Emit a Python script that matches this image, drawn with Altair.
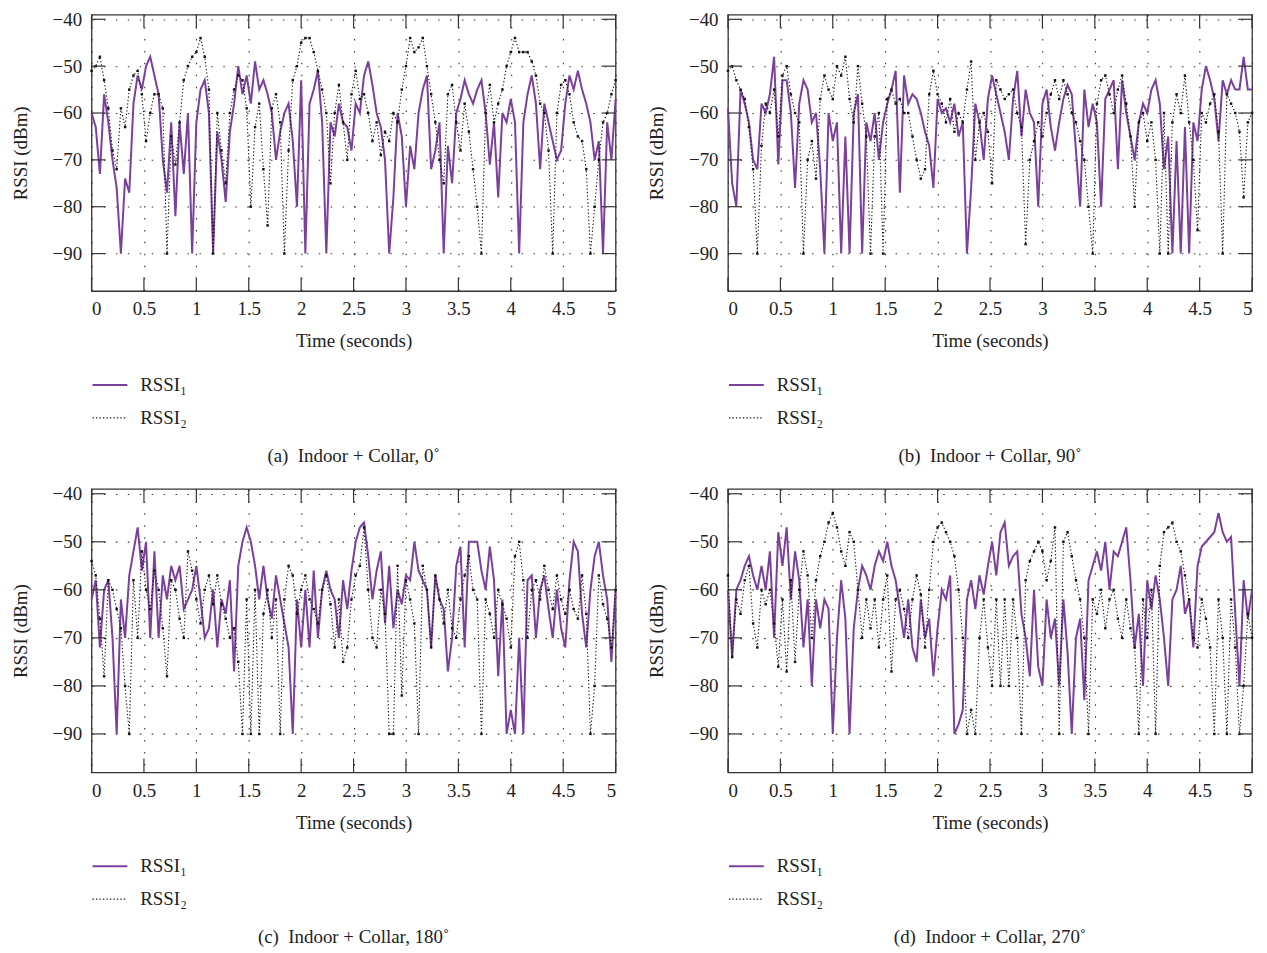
import altair as alt
import pandas as pd

# ---------------- data ----------------
TIME = [round(i * 0.04, 2) for i in range(126)]
SERIES = ["RSSI\u2081", "RSSI\u2082"]
X_TICKS = [0, 0.5, 1, 1.5, 2, 2.5, 3, 3.5, 4, 4.5, 5]
Y_TICKS = [-90, -80, -70, -60, -50, -40]
CAPTIONS = [
    "(a)\u2002Indoor + Collar, 0\u02da",
    "(b)\u2002Indoor + Collar, 90\u02da",
    "(c)\u2002Indoor + Collar, 180\u02da",
    "(d)\u2002Indoor + Collar, 270\u02da",
]

A_RSSI1 = [-60, -63, -73, -56, -62, -70, -76, -90, -74, -77,
           -58, -52, -55, -50, -48, -52, -56, -70, -77, -62,
           -82, -62, -73, -60, -90, -62, -55, -53, -60, -90,
           -64, -70, -79, -64, -58, -50, -56, -52, -58, -49,
           -55, -53, -56, -60, -70, -64, -60, -58, -66, -80,
           -53, -90, -58, -55, -51, -62, -90, -62, -65, -58,
           -62, -63, -68, -58, -60, -52, -49, -54, -60, -63,
           -70, -90, -78, -60, -65, -80, -67, -72, -60, -55,
           -52, -72, -68, -62, -90, -67, -75, -60, -57, -53,
           -56, -58, -55, -53, -60, -71, -62, -78, -60, -62,
           -57, -62, -90, -62, -56, -52, -58, -72, -58, -62,
           -66, -70, -68, -58, -52, -55, -51, -55, -58, -62,
           -70, -66, -90, -62, -70, -57]
A_RSSI2 = [-51, -50, -48, -53, -59, -68, -72, -59, -63, -55,
           -52, -51, -56, -66, -60, -56, -56, -59, -90, -65,
           -71, -62, -53, -50, -48, -47, -44, -48, -55, -90,
           -60, -68, -75, -60, -55, -52, -53, -59, -80, -63,
           -58, -72, -84, -59, -56, -62, -90, -68, -53, -50,
           -45, -44, -44, -47, -51, -55, -60, -75, -60, -54,
           -62, -70, -56, -51, -57, -56, -60, -66, -62, -69,
           -64, -66, -60, -62, -55, -50, -44, -47, -46, -44,
           -50, -56, -62, -70, -75, -56, -54, -62, -68, -58,
           -64, -72, -80, -90, -60, -54, -62, -58, -55, -50,
           -47, -44, -47, -47, -47, -49, -52, -58, -60, -68,
           -90, -60, -54, -53, -56, -62, -65, -66, -72, -90,
           -80, -70, -62, -60, -56, -53]

B_RSSI1 = [-59, -75, -80, -55, -58, -62, -70, -72, -58, -60,
           -56, -48, -71, -53, -53, -60, -76, -58, -53, -55,
           -62, -60, -72, -90, -60, -66, -62, -90, -65, -90,
           -60, -56, -90, -62, -66, -60, -70, -62, -58, -55,
           -51, -77, -52, -58, -56, -57, -60, -64, -67, -76,
           -57, -60, -59, -62, -58, -65, -62, -90, -76, -58,
           -62, -70, -57, -52, -56, -60, -64, -70, -57, -51,
           -65, -55, -60, -62, -80, -58, -55, -63, -68, -62,
           -57, -54, -56, -68, -80, -55, -63, -58, -62, -80,
           -57, -55, -53, -72, -53, -60, -65, -70, -62, -58,
           -60, -55, -53, -58, -72, -65, -90, -66, -90, -63,
           -90, -62, -66, -55, -50, -53, -57, -66, -53, -56,
           -53, -55, -55, -48, -55, -55]
B_RSSI2 = [-51, -50, -53, -55, -57, -63, -72, -90, -67, -58,
           -60, -55, -65, -52, -50, -56, -60, -62, -90, -70,
           -66, -74, -57, -52, -55, -57, -50, -52, -48, -57,
           -62, -50, -58, -65, -90, -65, -60, -90, -57, -55,
           -58, -57, -60, -60, -65, -70, -74, -72, -56, -51,
           -56, -58, -62, -57, -64, -60, -62, -55, -49, -70,
           -62, -60, -64, -75, -53, -55, -57, -56, -55, -60,
           -63, -88, -70, -66, -62, -65, -60, -56, -53, -57,
           -53, -56, -60, -62, -66, -70, -80, -90, -58, -53,
           -52, -56, -60, -55, -52, -58, -65, -80, -62, -60,
           -66, -62, -70, -90, -60, -90, -62, -56, -60, -52,
           -62, -70, -85, -60, -62, -58, -56, -64, -90, -56,
           -58, -60, -64, -78, -62, -60]

C_RSSI1 = [-62, -58, -72, -60, -58, -70, -90, -62, -70, -57,
           -52, -47, -56, -50, -70, -52, -70, -57, -62, -55,
           -58, -55, -64, -62, -60, -55, -62, -70, -68, -60,
           -72, -62, -65, -58, -77, -55, -50, -47, -50, -55,
           -62, -55, -62, -66, -57, -62, -67, -72, -90, -62,
           -72, -60, -72, -56, -70, -60, -56, -60, -62, -70,
           -58, -64, -56, -50, -47, -46, -53, -62, -56, -52,
           -67, -55, -68, -60, -63, -57, -58, -50, -56, -58,
           -60, -72, -57, -62, -64, -77, -70, -55, -51, -72,
           -50, -50, -50, -56, -60, -51, -58, -78, -62, -90,
           -85, -90, -70, -90, -58, -57, -70, -60, -57, -64,
           -70, -60, -68, -72, -58, -50, -52, -65, -72, -60,
           -53, -50, -57, -62, -75, -60]
C_RSSI2 = [-54, -57, -66, -78, -58, -60, -64, -68, -80, -90,
           -58, -70, -52, -60, -64, -56, -60, -68, -78, -58,
           -60, -66, -70, -52, -56, -62, -67, -60, -57, -63,
           -57, -63, -66, -70, -68, -75, -90, -62, -90, -60,
           -90, -65, -60, -70, -62, -90, -62, -55, -57, -65,
           -60, -57, -62, -64, -67, -60, -57, -63, -72, -62,
           -75, -72, -62, -57, -55, -47, -60, -70, -72, -60,
           -65, -90, -90, -55, -82, -58, -62, -67, -90, -55,
           -60, -72, -57, -62, -67, -60, -68, -70, -62, -57,
           -53, -60, -62, -90, -62, -65, -70, -60, -63, -66,
           -72, -53, -50, -58, -70, -60, -58, -62, -55, -60,
           -64, -57, -62, -65, -60, -64, -66, -57, -65, -90,
           -80, -57, -63, -66, -72, -60]

D_RSSI1 = [-60, -74, -60, -58, -55, -53, -57, -60, -55, -60,
           -52, -70, -48, -55, -47, -62, -52, -58, -72, -62,
           -80, -62, -68, -62, -64, -90, -70, -58, -66, -90,
           -68, -60, -55, -57, -60, -55, -52, -54, -50, -55,
           -58, -64, -70, -62, -72, -75, -62, -70, -66, -78,
           -68, -60, -62, -57, -90, -88, -85, -62, -58, -64,
           -57, -61, -55, -50, -57, -48, -46, -55, -53, -52,
           -65, -70, -78, -60, -76, -80, -62, -70, -66, -80,
           -62, -73, -90, -70, -66, -83, -58, -55, -52, -56,
           -50, -60, -52, -53, -50, -47, -58, -72, -65, -80,
           -58, -64, -57, -62, -70, -80, -62, -60, -55, -65,
           -62, -72, -55, -51, -50, -49, -48, -44, -48, -50,
           -49, -65, -80, -58, -66, -60]
D_RSSI2 = [-57, -74, -62, -65, -58, -55, -67, -72, -60, -63,
           -60, -67, -76, -62, -77, -58, -75, -60, -52, -57,
           -70, -58, -53, -50, -46, -44, -47, -52, -55, -48,
           -50, -60, -70, -62, -68, -62, -72, -62, -57, -77,
           -62, -60, -64, -70, -62, -57, -61, -72, -60, -50,
           -47, -46, -48, -50, -53, -60, -70, -90, -85, -90,
           -70, -62, -72, -80, -62, -80, -62, -80, -62, -70,
           -90, -58, -54, -52, -50, -52, -58, -54, -47, -90,
           -50, -48, -53, -58, -62, -70, -90, -62, -65, -60,
           -68, -62, -60, -66, -70, -62, -68, -72, -90, -62,
           -70, -60, -90, -55, -48, -47, -46, -50, -52, -57,
           -62, -70, -72, -62, -66, -72, -90, -62, -70, -90,
           -62, -72, -90, -80, -65, -70]

PANELS = [(A_RSSI1, A_RSSI2), (B_RSSI1, B_RSSI2), (C_RSSI1, C_RSSI2), (D_RSSI1, D_RSSI2)]

# ---------------- styling ----------------
FONT = "Liberation Serif"
FS = 19
PURPLE = "#7B3F9C"
INK = "#222222"
W = 527
HEIGHTS = [278, 278, 285, 285]   # top row a bit shorter: its "-40" label needs room at the page top
X_DOM = [0, 5]
Y_DOM = [-98, -39]
TICK_DB = 2.9      # inward tick length (in data units of y)
TICK_S = 0.133     # inward tick length (in data units of x)


def panel(r1, r2, caption, h):
    n = len(TIME)
    df = pd.DataFrame({
        "t": TIME + TIME,
        "rssi": r1 + r2,
        "series": [SERIES[0]] * n + [SERIES[1]] * n,
    })
    xs = alt.Scale(domain=X_DOM, nice=False, zero=False)
    ys = alt.Scale(domain=Y_DOM, nice=False, zero=False)
    grid = dict(grid=True, gridDash=[1.5, 10.5], gridColor="#333333", gridWidth=1.1,
                ticks=False, tickSize=0, domain=False)
    xaxis = alt.Axis(values=X_TICKS, format="~g", labelPadding=9, title="Time (seconds)",
                     titlePadding=13, **grid)
    yaxis = alt.Axis(values=Y_TICKS, format="d", labelPadding=10, title="RSSI (dBm)",
                     titlePadding=22, **grid)
    X = alt.X("t:Q", scale=xs, axis=xaxis)
    Y = alt.Y("rssi:Q", scale=ys, axis=yaxis)

    legend = alt.Legend(orient="none", legendX=0, legendY=h + 76, direction="vertical",
                        title=None, symbolType="stroke", symbolSize=1225,
                        labelFont=FONT, labelFontSize=FS, labelColor=INK,
                        rowPadding=4, labelOffset=12)
    color = alt.Color("series:N", scale=alt.Scale(domain=SERIES, range=[PURPLE, "#111111"]),
                      legend=legend)
    dash = alt.StrokeDash("series:N", scale=alt.Scale(domain=SERIES, range=[[1, 0], [1.3, 2.2]]),
                          legend=legend)
    width = alt.StrokeWidth("series:N", scale=alt.Scale(domain=SERIES, range=[2.0, 1.1]),
                            legend=legend)

    lines = alt.Chart(df).mark_line().encode(x=X, y=Y, color=color, strokeDash=dash,
                                             strokeWidth=width)
    pts = (alt.Chart(df).transform_filter(alt.datum.series == SERIES[1])
           .mark_square(size=6, color="#111111", opacity=1).encode(x=X, y=Y))

    xt = pd.DataFrame({"t": X_TICKS})
    yt = pd.DataFrame({"rssi": Y_TICKS})
    rule = dict(color="#333333", strokeWidth=1.2)
    t_bottom = alt.Chart(xt).mark_rule(**rule).encode(
        x=X, y=alt.datum(Y_DOM[0]), y2=alt.datum(Y_DOM[0] + TICK_DB))
    t_top = alt.Chart(xt).mark_rule(**rule).encode(
        x=X, y=alt.datum(Y_DOM[1]), y2=alt.datum(Y_DOM[1] - TICK_DB))
    t_left = alt.Chart(yt).mark_rule(**rule).encode(
        y=Y, x=alt.datum(X_DOM[0]), x2=alt.datum(X_DOM[0] + TICK_S))
    t_right = alt.Chart(yt).mark_rule(**rule).encode(
        y=Y, x=alt.datum(X_DOM[1]), x2=alt.datum(X_DOM[1] - TICK_S))

    return alt.layer(lines, pts, t_bottom, t_top, t_left, t_right).properties(
        width=W, height=h,
        title=alt.TitleParams(caption, orient="bottom", anchor="middle", font=FONT,
                              fontSize=FS, fontWeight="normal", color=INK, offset=19),
    )


charts = [panel(r1, r2, cap, h) for (r1, r2), cap, h in zip(PANELS, CAPTIONS, HEIGHTS)]

chart = (
    alt.concat(*charts, columns=2, spacing={"row": 17, "column": 26})
    .resolve_scale(color="independent", strokeDash="independent", strokeWidth="independent")
    .properties(padding={"left": 2, "top": -1, "right": 2, "bottom": 2})
    .configure(font=FONT)
    .configure_view(stroke="#333333", strokeWidth=1.3)
    .configure_axis(labelFont=FONT, labelFontSize=FS, titleFont=FONT, titleFontSize=FS,
                    titleFontWeight="normal", labelColor=INK, titleColor=INK)
)

chart.save("out.html", embed_options={"renderer": "svg", "actions": False})
